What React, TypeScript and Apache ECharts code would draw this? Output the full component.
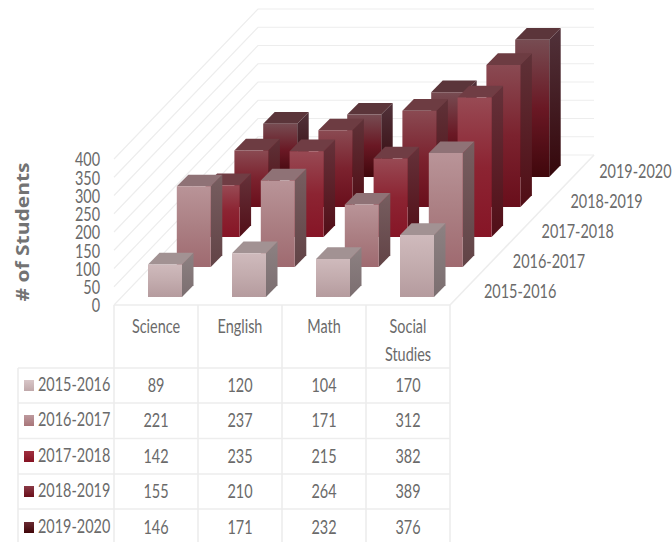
import React, { useEffect, useRef } from "react";
import * as echarts from "echarts";

const categories = ["Science", "English", "Math", "Social\nStudies"];
const years = ["2015-2016", "2016-2017", "2017-2018", "2018-2019", "2019-2020"];
const values2015 = [89, 120, 104, 170];
const values2016 = [221, 237, 171, 312];
const values2017 = [142, 235, 215, 382];
const values2018 = [155, 210, 264, 389];
const values2019 = [146, 171, 232, 376];
const rows = [values2015, values2016, values2017, values2018, values2019];
const wallTicks = [0, 50, 100, 150, 200, 250, 300, 350, 400];

const FRONT = [
  ["#cfbabc", "#c3acae", "#b59b9e"],
  ["#b99498", "#ab7f83", "#9f6a70"],
  ["#984a54", "#8c2432", "#861526"],
  ["#8a4a52", "#7b222e", "#690e1b"],
  ["#774c52", "#6a1824", "#40070c"],
];
const TOP = ["#a29293", "#8f7276", "#703d44", "#6d3c42", "#5b353a"];
const SIDE = [
  ["#8d8182", "#7b6e70"],
  ["#775e60", "#624346"],
  ["#65323a", "#520e17"],
  ["#5f3238", "#510d15"],
  ["#51323a", "#35070b"],
];
const SWATCH = [
  ["#d8c6c8", "#c0a8aa"],
  ["#bd9a9e", "#a87478"],
  ["#a03040", "#851222"],
  ["#8a3a46", "#6a0e1a"],
  ["#6a2a32", "#400609"],
];

const TEXT = "#6a6a6a";
const LINE = "#ededed";
const DEPTH_X = 144;
const DEPTH_Y = 150;
const ROW_X = DEPTH_X / 5;
const ROW_Y = DEPTH_Y / 5;
const BAR_W = 34;
const BAR_DX = 11.5;
const BAR_DY = 11.7;
const ROW_TEXT_Y = [385, 420, 456, 491, 527];

const grad = (stops: string[]) =>
  new echarts.graphic.LinearGradient(
    0, 0, 0, 1,
    stops.map((color, i) => ({ offset: i / (stops.length - 1), color }))
  );

const label = (text: string, x: number, y: number, align: string, verticalAlign = "middle") => ({
  type: "text",
  x,
  y,
  scaleX: 0.76,
  style: {
    x: 0,
    y: 0,
    text,
    fill: TEXT,
    font: "19px Lato, sans-serif",
    lineHeight: 28,
    align,
    verticalAlign,
  },
});

const barSeries = (row: number) => ({
  type: "custom",
  name: years[row],
  coordinateSystem: "cartesian2d",
  z: 10 - row,
  encode: { x: 0, y: 1 },
  data: rows[row].map((v, c) => [c, v]),
  silent: true,
  renderItem: (_: any, api: any) => {
    const c = api.value(0);
    const v = api.value(1);
    const top = api.coord([c, v]);
    const base = api.coord([c, 0]);
    const ox = 9 + row * ROW_X;
    const oy = 8 + row * ROW_Y;
    const x0 = base[0] - BAR_W / 2 + ox;
    const x1 = x0 + BAR_W;
    const yb = base[1] - oy;
    const yt = top[1] - oy;
    const poly = (points: number[][], fill: any) => ({
      type: "polygon",
      shape: { points },
      style: { fill, stroke: null },
    });
    return {
      type: "group",
      children: [
        poly([[x1, yb], [x1 + BAR_DX, yb - BAR_DY], [x1 + BAR_DX, yt - BAR_DY], [x1, yt]], grad(SIDE[row])),
        poly([[x0, yt], [x1, yt], [x1 + BAR_DX, yt - BAR_DY], [x0 + BAR_DX, yt - BAR_DY]], TOP[row]),
        poly([[x0, yb], [x1, yb], [x1, yt], [x0, yt]], grad(FRONT[row])),
        label(String(v), base[0], ROW_TEXT_Y[row], "center"),
      ],
    };
  },
});

const wallSeries = {
  type: "custom",
  name: "walls",
  coordinateSystem: "cartesian2d",
  z: 1,
  silent: true,
  encode: { x: 0, y: 1 },
  data: wallTicks.map((t) => [0, t]),
  renderItem: (_: any, api: any) => {
    const v = api.value(1);
    const p = api.coord([0, v]);
    const band = api.size([1, 0])[0];
    const x0 = p[0] - band / 2;
    const points = [
      [x0, p[1]],
      [x0 + DEPTH_X, p[1] - DEPTH_Y],
      [x0 + DEPTH_X + band * categories.length, p[1] - DEPTH_Y],
    ];
    return {
      type: "group",
      children: [
        { type: "polyline", shape: { points }, style: { stroke: LINE, lineWidth: 1.2, fill: null } },
        label(String(v), x0 - 14, p[1], "right"),
      ],
    };
  },
};

const categorySeries = {
  type: "custom",
  name: "categories",
  coordinateSystem: "cartesian2d",
  z: 2,
  silent: true,
  encode: { x: 0, y: 1 },
  data: categories.map((_, c) => [c, 0]),
  renderItem: (params: any, api: any) => {
    const p = api.coord([api.value(0), 0]);
    return label(categories[params.dataIndex], p[0], p[1] + 7, "center", "top");
  },
};

const tableGraphic = () => {
  const out: any[] = [];
  const line = (x1: number, y1: number, x2: number, y2: number) =>
    out.push({
      type: "line",
      shape: { x1, y1, x2, y2 },
      style: { stroke: LINE, lineWidth: 1.6 },
    });
  [114, 198, 282, 366, 450].forEach((x) => line(x, 305, x, 542));
  line(18, 368, 18, 542);
  line(114, 305, 450, 305);
  line(450, 305, 594, 155);
  [368, 403, 438.5, 474, 509].forEach((y) => line(18, y, 450, y));
  years.forEach((y, i) => {
    out.push({
      type: "rect",
      shape: { x: 24, y: ROW_TEXT_Y[i] - 5, width: 10, height: 11 },
      style: { fill: grad(SWATCH[i]) },
    });
    out.push(label(y, 38, ROW_TEXT_Y[i] - 1, "left"));
    out.push(label(y, 484 + i * ROW_X, 291 - i * ROW_Y, "left"));
  });
  out.push({
    type: "text",
    x: 22,
    y: 232,
    rotation: Math.PI / 2,
    scaleY: 0.82,
    style: {
      x: 0,
      y: 0,
      text: "# of Students",
      fill: "#737373",
      font: 'bold 21px "Open Sans", sans-serif',
      align: "center",
      verticalAlign: "middle",
    },
  });
  return out;
};

export default function App() {
  const ref = useRef<HTMLDivElement>(null);
  useEffect(() => {
    const chart = echarts.init(ref.current!, null, { renderer: "svg" });
    chart.setOption({
      animation: false,
      backgroundColor: "#ffffff",
      grid: { left: 114, top: 159, width: 336, height: 146, containLabel: false },
      xAxis: {
        type: "category",
        data: categories,
        axisLine: { show: false },
        axisTick: { show: false },
        axisLabel: { show: false },
      },
      yAxis: {
        type: "value",
        min: 0,
        max: 400,
        interval: 50,
        axisLine: { show: false },
        axisTick: { show: false },
        splitLine: { show: false },
        axisLabel: { show: false },
      },
      series: [wallSeries, categorySeries, ...[4, 3, 2, 1, 0].map(barSeries)],
      graphic: tableGraphic(),
    });
    return () => chart.dispose();
  }, []);
  return (
    <div
      ref={ref}
      style={{ position: "fixed", left: 0, top: 0, width: 672, height: 542 }}
    />
  );
}
